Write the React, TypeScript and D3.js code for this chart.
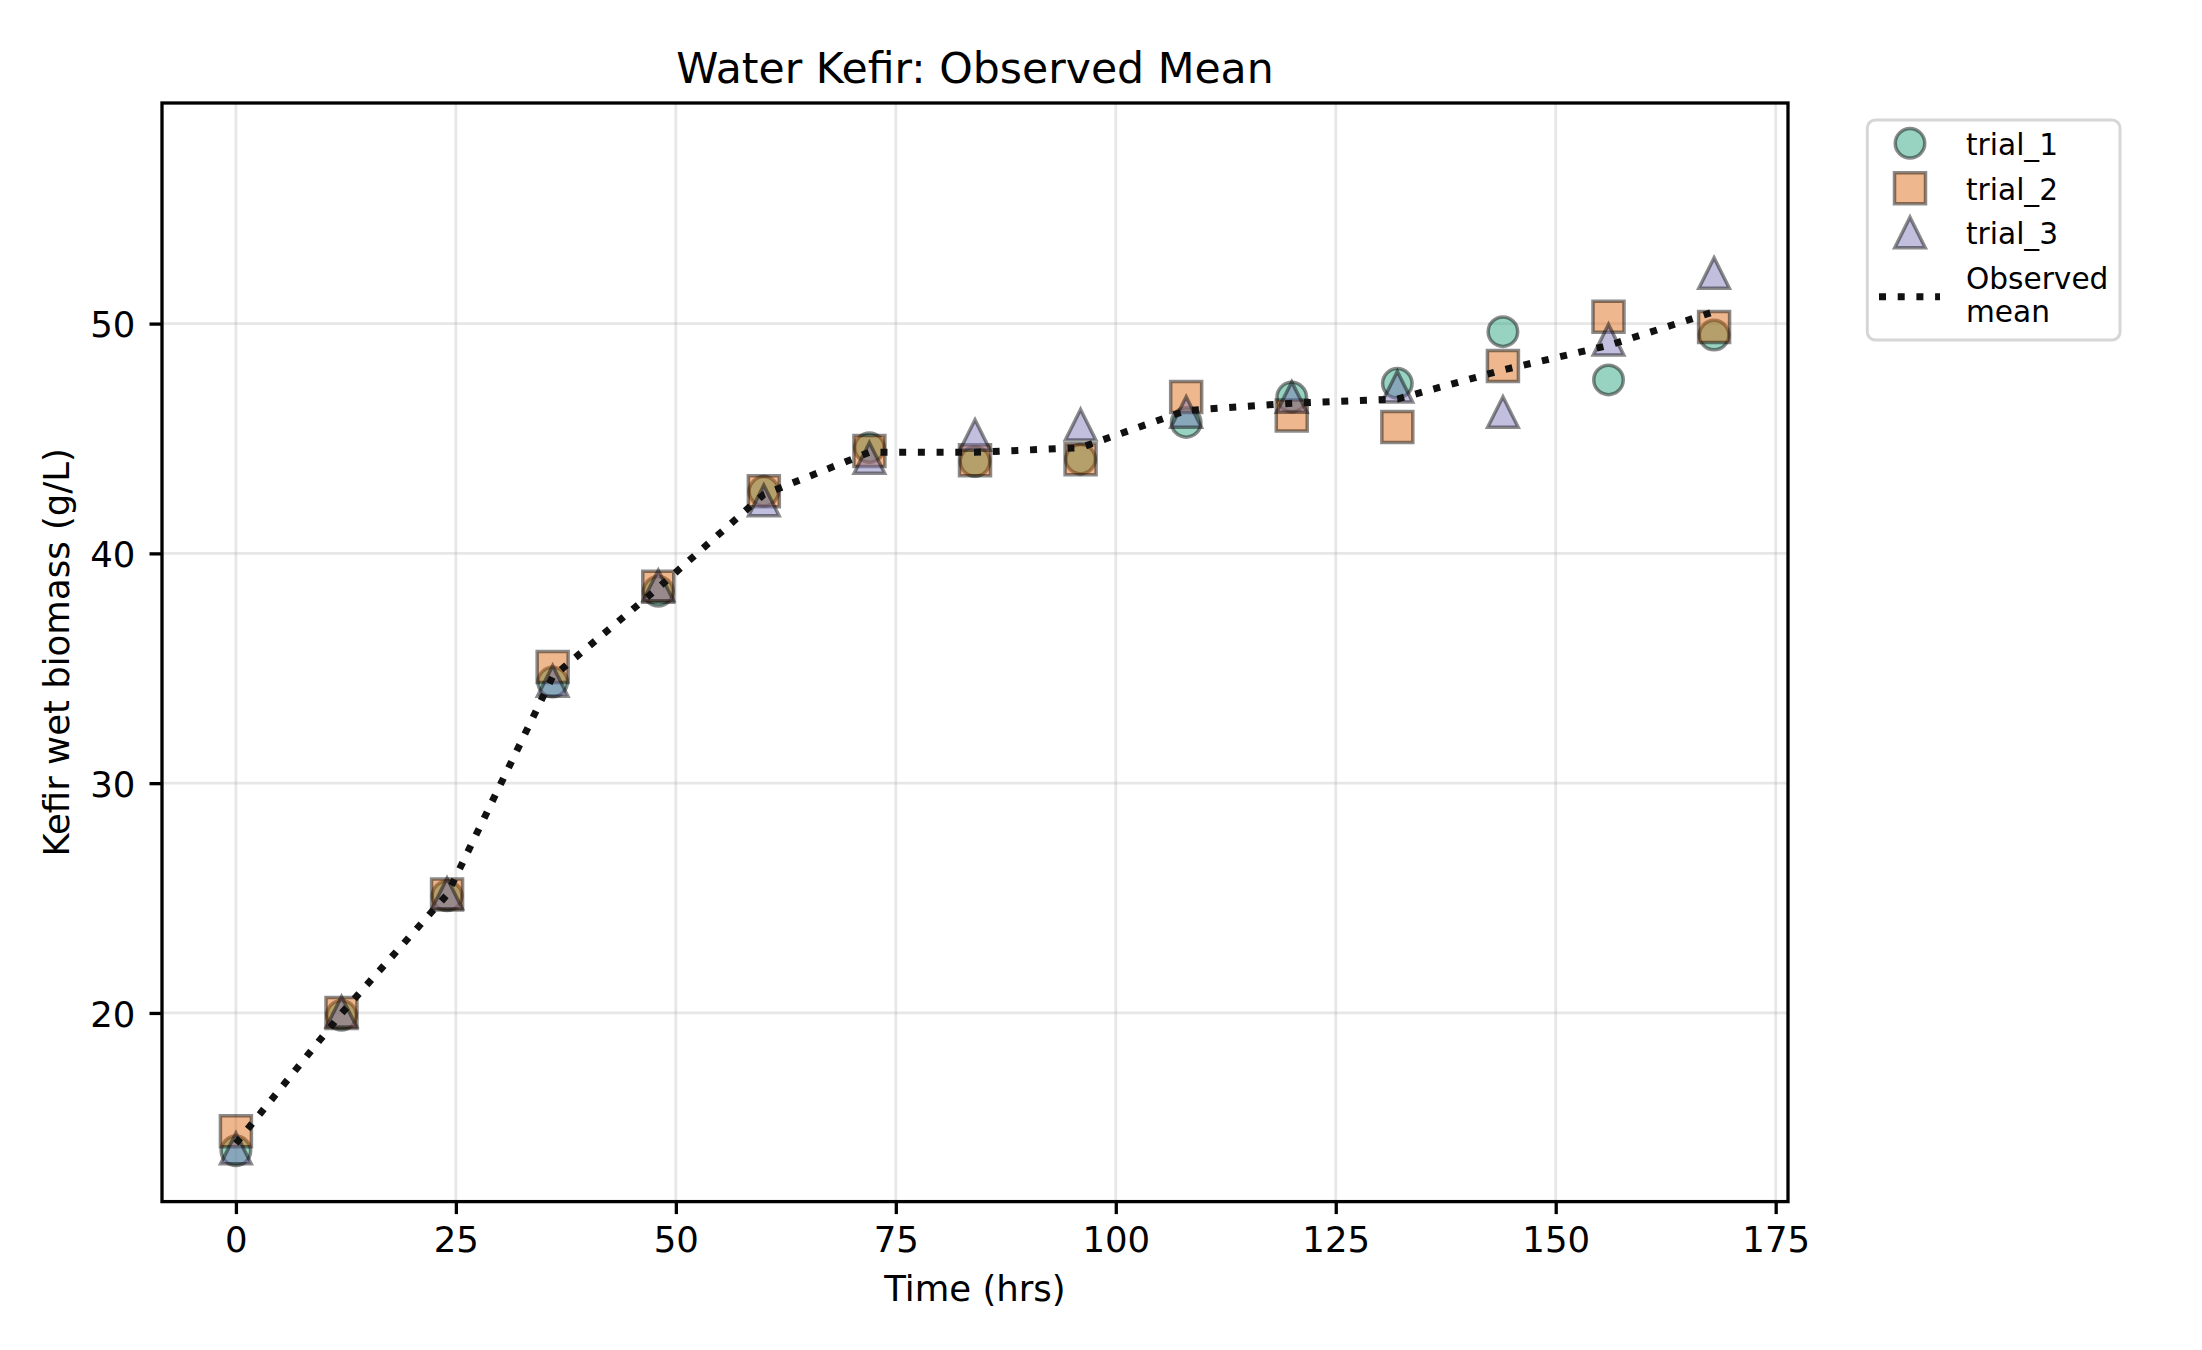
import React, { useEffect, useRef } from 'react';
import * as d3 from 'd3';

// values
const times = [0, 12, 24, 36, 48, 60, 72, 84, 96, 108, 120, 132, 144, 156, 168];
const trial1 = [14.0, 19.9, 25.1, 34.4, 38.35, 42.7, 44.6, 44.0, 44.1, 45.7, 46.8, 47.4, 49.65, 47.55, 49.5];
const trial2 = [14.85, 20.0, 25.15, 35.05, 38.55, 42.7, 44.45, 44.05, 44.1, 46.8, 46.0, 45.5, 48.15, 50.3, 49.85];
const trial3 = [14.1, 20.05, 25.2, 34.45, 38.6, 42.3, 44.15, 45.15, 45.6, 46.15, 46.8, 47.25, 46.15, 49.3, 52.2];

const seriesNames = ['trial_1', 'trial_2', 'trial_3'];
const seriesColors = ['#1b9e77', '#d95f02', '#7570b3'];
const seriesShapes = ['circle', 'square', 'triangle'];

const xTicks = [0, 25, 50, 75, 100, 125, 150, 175];
const yTicks = [20, 30, 40, 50];

const FONT = "'DejaVu Sans', sans-serif";

const markerPath = (shape: string): string => {
  if (shape === 'circle') return d3.symbol(d3.symbolCircle, Math.PI * 14.75 * 14.75)() as string;
  if (shape === 'square') return d3.symbol(d3.symbolSquare, 31 * 31)() as string;
  const h = 30.5 / 2;
  return `M0,${-h}L${h},${h}L${-h},${h}Z`;
};

const App: React.FC = () => {
  const svgRef = useRef<SVGSVGElement>(null);

  useEffect(() => {
    if (!svgRef.current) return;
    const svg = d3.select(svgRef.current);
    svg.selectAll('*').remove();

    const left = 162;
    const right = 1788;
    const top = 103;
    const bottom = 1201.6;

    const x = d3.scaleLinear().domain([-8.4, 176.4]).range([left, right]);
    const y = d3.scaleLinear().domain([11.79, 59.6]).range([bottom, top]);

    const series = [trial1, trial2, trial3];
    const meanValues = times.map((_t, i) => d3.mean(series, (s) => s[i]) as number);

    svg.append('rect').attr('width', 2202).attr('height', 1350).attr('fill', '#fff');

    // grid
    const grid = svg.append('g');
    grid
      .selectAll('line.vx')
      .data(xTicks)
      .enter()
      .append('line')
      .attr('x1', (d) => x(d))
      .attr('x2', (d) => x(d))
      .attr('y1', top)
      .attr('y2', bottom);
    grid
      .selectAll('line.hy')
      .data(yTicks)
      .enter()
      .append('line')
      .attr('x1', left)
      .attr('x2', right)
      .attr('y1', (d) => y(d))
      .attr('y2', (d) => y(d));
    grid.selectAll('line').attr('stroke', '#b0b0b0').attr('stroke-opacity', 0.3).attr('stroke-width', 2.8);

    // scatter points
    series.forEach((values, si) => {
      svg
        .append('g')
        .selectAll('path')
        .data(values)
        .enter()
        .append('path')
        .attr('d', markerPath(seriesShapes[si]))
        .attr('transform', (d, i) => `translate(${x(times[i])},${y(d)})`)
        .attr('fill', seriesColors[si])
        .attr('fill-opacity', 0.45)
        .attr('stroke', '#000')
        .attr('stroke-opacity', 0.45)
        .attr('stroke-width', 3.5)
        .attr('stroke-linejoin', 'miter');
    });

    // observed mean
    const line = d3
      .line<number>()
      .x((_d, i) => x(times[i]))
      .y((d) => y(d));
    svg
      .append('path')
      .datum(meanValues)
      .attr('d', line)
      .attr('fill', 'none')
      .attr('stroke', '#111')
      .attr('stroke-width', 7)
      .attr('stroke-dasharray', '7 11.7');

    // axes
    const xAxis = svg
      .append('g')
      .attr('transform', `translate(0,${bottom})`)
      .call(d3.axisBottom(x).tickValues(xTicks).tickSize(12.5).tickPadding(13.2).tickFormat(d3.format('d')));
    const yAxis = svg
      .append('g')
      .attr('transform', `translate(${left},0)`)
      .call(d3.axisLeft(y).tickValues(yTicks).tickSize(12.5).tickPadding(14.1).tickFormat(d3.format('d')));
    [xAxis, yAxis].forEach((ax) => {
      ax.select('.domain').remove();
      ax.attr('font-family', FONT).attr('font-size', 35.5);
      ax.selectAll('line').attr('stroke', '#000').attr('stroke-width', 3.3);
      ax.selectAll('text').attr('fill', '#000');
    });
    yAxis.selectAll('text').attr('dy', '0.37em');

    // spines
    svg
      .append('rect')
      .attr('x', left)
      .attr('y', top)
      .attr('width', right - left)
      .attr('height', bottom - top)
      .attr('fill', 'none')
      .attr('stroke', '#000')
      .attr('stroke-width', 3.3);

    // titles
    svg
      .append('text')
      .attr('x', (left + right) / 2)
      .attr('y', 82.6)
      .attr('text-anchor', 'middle')
      .attr('font-family', FONT)
      .attr('font-size', 42.6)
      .text('Water Kefir: Observed Mean');
    svg
      .append('text')
      .attr('x', (left + right) / 2)
      .attr('y', 1301)
      .attr('text-anchor', 'middle')
      .attr('font-family', FONT)
      .attr('font-size', 35.5)
      .text('Time (hrs)');
    svg
      .append('text')
      .attr('transform', `translate(69,${(top + bottom) / 2}) rotate(-90)`)
      .attr('text-anchor', 'middle')
      .attr('font-family', FONT)
      .attr('font-size', 35.5)
      .text('Kefir wet biomass (g/L)');

    // legend
    const legend = svg.append('g');
    legend
      .append('rect')
      .attr('x', 1867.3)
      .attr('y', 120)
      .attr('width', 252.7)
      .attr('height', 220)
      .attr('rx', 8)
      .attr('fill', '#fff')
      .attr('fill-opacity', 0.8)
      .attr('stroke', '#d6d6d6')
      .attr('stroke-width', 3);
    const rowY = [143.3, 188.2, 232.5];
    seriesNames.forEach((name, si) => {
      legend
        .append('path')
        .attr('d', markerPath(seriesShapes[si]))
        .attr('transform', `translate(1910,${rowY[si]})`)
        .attr('fill', seriesColors[si])
        .attr('fill-opacity', 0.45)
        .attr('stroke', '#000')
        .attr('stroke-opacity', 0.45)
        .attr('stroke-width', 3.5);
      legend
        .append('text')
        .attr('x', 1966)
        .attr('y', rowY[si] + 11.5)
        .attr('font-family', FONT)
        .attr('font-size', 29.6)
        .text(name);
    });
    legend
      .append('line')
      .attr('x1', 1879)
      .attr('x2', 1940)
      .attr('y1', 296.7)
      .attr('y2', 296.7)
      .attr('stroke', '#111')
      .attr('stroke-width', 7)
      .attr('stroke-dasharray', '7 11.7');
    const meanLabel = legend.append('text').attr('font-family', FONT).attr('font-size', 29.6);
    meanLabel.append('tspan').attr('x', 1966).attr('y', 289).text('Observed');
    meanLabel.append('tspan').attr('x', 1966).attr('y', 322.3).text('mean');
  }, []);

  return (
    <div style={{ position: 'absolute', left: 0, top: 0 }}>
      <svg ref={svgRef} width={2202} height={1350} style={{ display: 'block' }}></svg>
    </div>
  );
};

export default App;
